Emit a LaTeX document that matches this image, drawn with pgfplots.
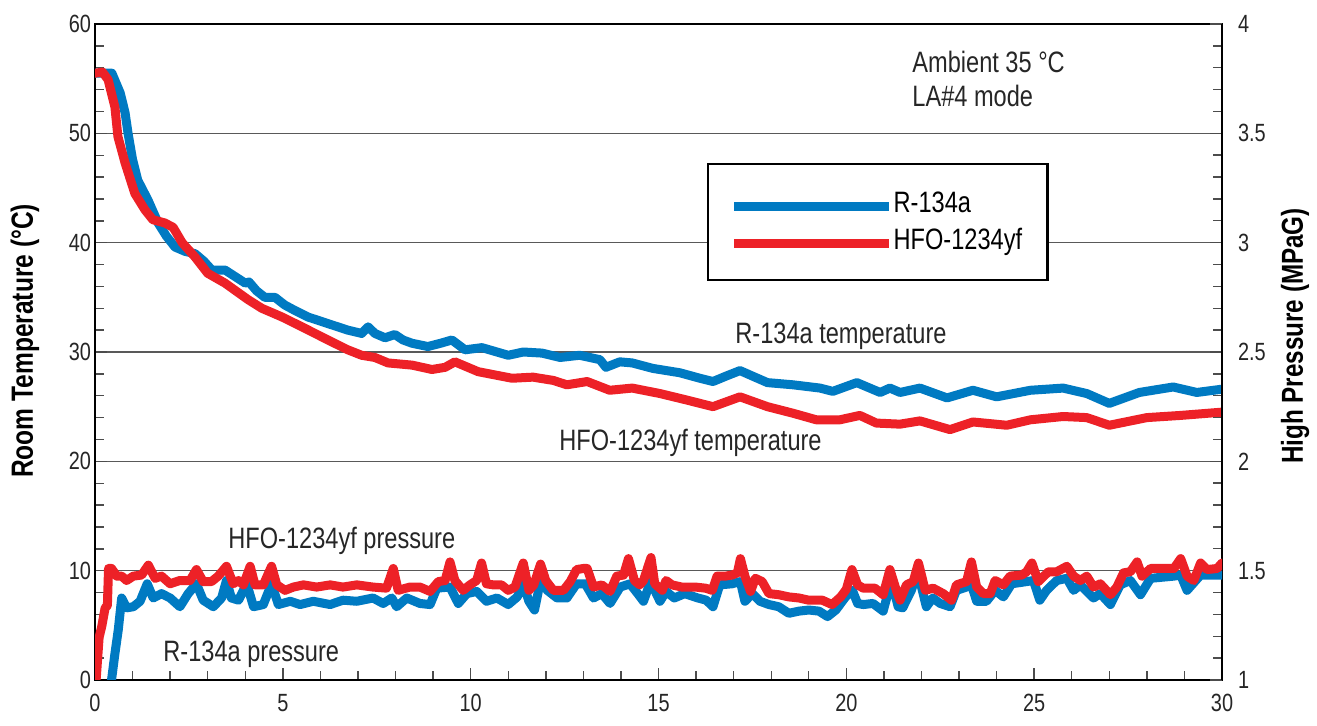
\documentclass[border=0pt]{standalone}
\usepackage{fontspec}
\setmainfont{Liberation Sans}[FakeStretch=0.8]
\usepackage{pgfplots}
\pgfplotsset{compat=1.18}
\definecolor{cblue}{RGB}{0,122,194}
\definecolor{cred}{RGB}{237,33,39}
\begin{document}
\begin{tikzpicture}
\path[use as bounding box] (-47.5bp,-23bp) rectangle (611bp,340bp);
\begin{axis}[
  at={(0,0)}, anchor=south west,
  scale only axis, width=563.5bp, height=328bp,
  xmin=0, xmax=30, ymin=0, ymax=60,
  xtick={0,5,10,15,20,25,30}, ytick={0,10,20,30,40,50,60},
  minor x tick num=4, minor y tick num=4,
  xtick pos=bottom, ytick pos=left,
  tick align=inside,
  major tick length=6bp, minor tick length=4.5bp,
  axis line style={line width=1.2bp},
  tick style={black!70, line width=0.7bp},
  ymajorgrids, major grid style={black!65, line width=0.6bp},
  ticklabel style={font=\fontsize{12.5}{12.5}\selectfont, text=black!85},
  xticklabel style={yshift=-3.5bp},
  yticklabel style={xshift=1.5bp},
  /pgf/number format/assume math mode=true,
  legend style={at={(0.543,0.788)}, anchor=north west, draw=black, line width=1.2bp,
    inner xsep=0pt, inner ysep=10.5bp, row sep=0pt, column sep=0pt,
    nodes={inner sep=0pt}, cells={anchor=west}, font=\fontsize{14.8}{14.8}\selectfont},
  legend image code/.code={
    \path[draw=none, fill=none] (-13bp,-9.25bp) rectangle (79.5bp,9.25bp);
    \draw[#1, line cap=butt] (0bp,-1.5bp) -- (77.5bp,-1.5bp);
  },
  every axis plot/.append style={line width=4.5bp, line join=round, line cap=round},
]
\addplot[cblue] coordinates {
(0,55.5) (0.45,55.5) (0.67,53.7) (0.8,51.9) (0.88,50.0) (1.0,47.6) (1.14,45.7)
(1.41,43.9) (1.68,41.8) (1.9,40.6) (2.13,39.6) (2.4,39.2) (2.66,39.0) (2.9,38.3)
(3.11,37.5) (3.46,37.5) (3.73,36.9) (4.0,36.3) (4.1,36.4) (4.3,35.6) (4.52,35.0)
(4.79,35.0) (5.05,34.3) (5.32,33.8) (5.67,33.2) (6.2,32.6) (6.73,32.0) (7.1,31.7)
(7.27,32.3) (7.45,31.7) (7.72,31.3) (7.98,31.6) (8.2,31.1) (8.44,30.8) (8.86,30.5)
(9.2,30.8) (9.5,31.1) (9.85,30.2) (10.3,30.4) (11.0,29.7) (11.4,30.0) (11.9,29.9)
(12.38,29.5) (12.9,29.7) (13.44,29.3) (13.6,28.6) (13.97,29.1) (14.3,29.0) (14.85,28.5)
(15.57,28.1) (16.1,27.6) (16.45,27.3) (16.8,27.8) (17.17,28.3) (17.5,27.8) (17.9,27.2)
(18.58,27.0) (19.3,26.7) (19.64,26.4) (20.28,27.2) (20.9,26.3) (21.16,26.7) (21.43,26.3)
(21.96,26.7) (22.68,25.8) (23.37,26.5) (24.0,25.9) (24.9,26.5) (25.77,26.7) (26.4,26.2)
(27.0,25.3) (27.8,26.3) (28.7,26.8) (29.33,26.3) (30,26.6)
};
\addlegendentry{\makebox[77bp][l]{\raisebox{0pt}[10bp][0pt]{R-134a}}}
\addplot[cred] coordinates {
(0,55.5) (0.2,55.6) (0.35,54.9) (0.53,52.4) (0.61,49.7) (0.8,47.3) (1.06,44.5)
(1.33,43.0) (1.54,42.1) (1.86,41.8) (2.08,41.4) (2.32,40.0) (2.66,38.7) (3.0,37.2)
(3.46,36.3) (4.07,34.8) (4.44,34.0) (4.98,33.2) (5.51,32.3) (6.2,31.1) (6.73,30.2)
(7.1,29.7) (7.45,29.5) (7.8,29.0) (8.44,28.8) (8.97,28.4) (9.32,28.6) (9.58,29.1)
(10.2,28.2) (10.65,27.9) (11.1,27.6) (11.66,27.7) (12.2,27.4) (12.56,27.0) (13.1,27.3)
(13.7,26.5) (14.3,26.7) (15.04,26.2) (15.76,25.6) (16.45,25.0) (17.17,25.9) (17.9,25.0)
(18.58,24.4) (19.2,23.8) (19.83,23.8) (20.36,24.2) (20.8,23.5) (21.43,23.4) (21.96,23.7)
(22.76,22.9) (23.37,23.6) (24.27,23.3) (24.9,23.8) (25.77,24.1) (26.4,24.0) (27.0,23.3)
(28.0,24.0) (28.9,24.2) (30,24.5)
};
\addlegendentry{\makebox[77bp][l]{\raisebox{0pt}[10bp][0pt]{HFO-1234yf}}}
\end{axis}
\begin{axis}[
  at={(0,0)}, anchor=south west,
  scale only axis, width=563.5bp, height=328bp,
  xmin=0, xmax=30, ymin=1, ymax=4,
  axis x line=none, axis y line*=right,
  ytick={1,1.5,2,2.5,3,3.5,4}, minor y tick num=4,
  tick align=inside,
  major tick length=6bp, minor tick length=4.5bp,
  axis line style={line width=1.2bp, -},
  tick style={black!70, line width=0.7bp},
  ticklabel style={font=\fontsize{12.5}{12.5}\selectfont, text=black!85},
  yticklabel style={xshift=4.5bp},
  /pgf/number format/assume math mode=true,
  every axis plot/.append style={line width=4.5bp, line join=round, line cap=round},
]
\addplot[cblue] coordinates {
(0.44,1.0) (0.53,1.12) (0.62,1.23) (0.71,1.375) (0.84,1.33) (1.02,1.335) (1.2,1.36)
(1.39,1.44) (1.55,1.375) (1.77,1.395) (2.0,1.375) (2.26,1.335) (2.48,1.395) (2.7,1.44)
(2.88,1.365) (3.15,1.335) (3.37,1.375) (3.5,1.455) (3.63,1.375) (3.82,1.365) (4.04,1.44)
(4.22,1.335) (4.48,1.345) (4.7,1.44) (4.88,1.345) (5.2,1.36) (5.46,1.345) (5.81,1.36)
(6.26,1.345) (6.6,1.365) (6.97,1.36) (7.4,1.375) (7.67,1.35) (7.9,1.375) (8.03,1.335)
(8.3,1.375) (8.65,1.35) (8.92,1.345) (9.1,1.42) (9.45,1.425) (9.67,1.35) (9.9,1.395)
(10.16,1.405) (10.42,1.36) (10.7,1.375) (11.0,1.345) (11.24,1.38) (11.4,1.44) (11.55,1.36)
(11.7,1.32) (11.86,1.455) (12.04,1.41) (12.3,1.375) (12.56,1.375) (12.82,1.44) (13.05,1.44)
(13.27,1.375) (13.49,1.395) (13.71,1.35) (13.98,1.425) (14.24,1.44) (14.47,1.39) (14.6,1.36)
(14.8,1.455) (14.9,1.41) (15.04,1.36) (15.2,1.405) (15.42,1.375) (15.7,1.395) (16.05,1.375)
(16.27,1.365) (16.45,1.335) (16.63,1.435) (16.96,1.44) (17.18,1.45) (17.3,1.36) (17.5,1.395)
(17.7,1.36) (17.94,1.345) (18.2,1.335) (18.47,1.305) (18.74,1.315) (19.0,1.32) (19.27,1.315)
(19.5,1.29) (19.72,1.32) (19.98,1.38) (20.16,1.41) (20.3,1.35) (20.45,1.345) (20.71,1.35)
(20.98,1.315) (21.2,1.455) (21.38,1.335) (21.5,1.33) (21.73,1.41) (21.9,1.495) (22.13,1.335)
(22.3,1.375) (22.5,1.35) (22.76,1.335) (22.93,1.41) (23.2,1.425) (23.33,1.435) (23.47,1.36)
(23.73,1.36) (23.96,1.41) (24.18,1.38) (24.4,1.44) (24.8,1.45) (24.98,1.455) (25.15,1.365)
(25.33,1.41) (25.6,1.455) (25.87,1.465) (26.05,1.41) (26.23,1.435) (26.58,1.375) (26.76,1.395)
(27.03,1.345) (27.29,1.435) (27.56,1.455) (27.83,1.39) (28.1,1.465) (28.72,1.475) (28.9,1.48)
(29.07,1.41) (29.43,1.48) (30.0,1.48)
};
\addplot[cred] coordinates {
(0.03,1.0) (0.11,1.195) (0.18,1.245) (0.27,1.33) (0.33,1.34) (0.36,1.51) (0.44,1.51)
(0.58,1.475) (0.71,1.475) (0.84,1.455) (1.02,1.475) (1.24,1.48) (1.42,1.525) (1.6,1.465)
(1.77,1.475) (2.0,1.44) (2.26,1.455) (2.53,1.455) (2.7,1.505) (2.88,1.45) (3.1,1.45)
(3.28,1.475) (3.5,1.52) (3.68,1.44) (3.82,1.455) (3.95,1.435) (4.13,1.52) (4.26,1.435)
(4.48,1.435) (4.7,1.52) (4.84,1.435) (5.06,1.41) (5.28,1.425) (5.55,1.435) (5.9,1.425)
(6.26,1.435) (6.6,1.425) (6.97,1.435) (7.4,1.425) (7.76,1.42) (7.94,1.51) (8.07,1.41)
(8.38,1.425) (8.65,1.425) (8.92,1.405) (9.14,1.45) (9.32,1.455) (9.45,1.54) (9.58,1.455)
(9.8,1.41) (9.98,1.435) (10.16,1.455) (10.29,1.535) (10.42,1.44) (10.6,1.435) (10.82,1.435)
(11.0,1.41) (11.18,1.425) (11.4,1.535) (11.55,1.41) (11.68,1.435) (11.86,1.53) (12.0,1.455)
(12.2,1.41) (12.47,1.41) (12.65,1.45) (12.82,1.505) (13.0,1.51) (13.1,1.51) (13.27,1.425)
(13.49,1.435) (13.71,1.405) (13.89,1.475) (14.07,1.48) (14.2,1.555) (14.36,1.455) (14.5,1.435)
(14.6,1.455) (14.8,1.56) (14.9,1.44) (15.1,1.41) (15.2,1.455) (15.36,1.435) (15.62,1.425)
(15.98,1.425) (16.25,1.42) (16.43,1.41) (16.56,1.475) (16.78,1.475) (16.96,1.48) (17.1,1.49)
(17.18,1.555) (17.3,1.475) (17.45,1.405) (17.58,1.465) (17.76,1.45) (17.94,1.395) (18.2,1.39)
(18.47,1.38) (18.74,1.375) (19.0,1.365) (19.36,1.365) (19.62,1.345) (19.85,1.38) (20.0,1.415)
(20.15,1.505) (20.3,1.435) (20.45,1.42) (20.76,1.42) (20.98,1.39) (21.16,1.505) (21.34,1.405)
(21.43,1.365) (21.6,1.435) (21.78,1.45) (21.92,1.535) (22.1,1.41) (22.31,1.42) (22.58,1.395)
(22.8,1.365) (22.93,1.435) (23.2,1.45) (23.33,1.54) (23.47,1.425) (23.65,1.395) (23.83,1.395)
(23.96,1.455) (24.18,1.435) (24.36,1.475) (24.67,1.48) (24.8,1.495) (24.94,1.535) (25.11,1.45)
(25.38,1.495) (25.6,1.495) (25.87,1.52) (26.05,1.475) (26.23,1.455) (26.4,1.475) (26.58,1.425)
(26.76,1.44) (27.03,1.39) (27.2,1.425) (27.38,1.49) (27.56,1.495) (27.74,1.54) (27.87,1.475)
(28.1,1.51) (28.36,1.51) (28.72,1.51) (28.9,1.555) (29.07,1.475) (29.25,1.455) (29.43,1.535)
(29.6,1.505) (29.87,1.51) (30.0,1.535)
};
\end{axis}
\node[rotate=90, font=\bfseries\fontsize{15.4}{15.4}\selectfont] at (-35bp,169.5bp) {Room Temperature (°C)};
\node[rotate=90, font=\bfseries\fontsize{15.2}{15.2}\selectfont] at (600bp,172bp) {High Pressure (MPaG)};
\begin{scope}[every node/.style={inner sep=0pt, anchor=base west, font=\fontsize{14.8}{14.8}\selectfont, text=black!85}]
\node at (408.5bp,303.5bp) {Ambient 35 °C};
\node at (408.5bp,286.5bp) {LA\#4 mode};
\node at (320bp,168bp) {R-134a temperature};
\node at (232bp,114.5bp) {HFO-1234yf temperature};
\node at (66.5bp,65.5bp) {HFO-1234yf pressure};
\node at (34bp,9.5bp) {R-134a pressure};
\end{scope}
\end{tikzpicture}
\end{document}
